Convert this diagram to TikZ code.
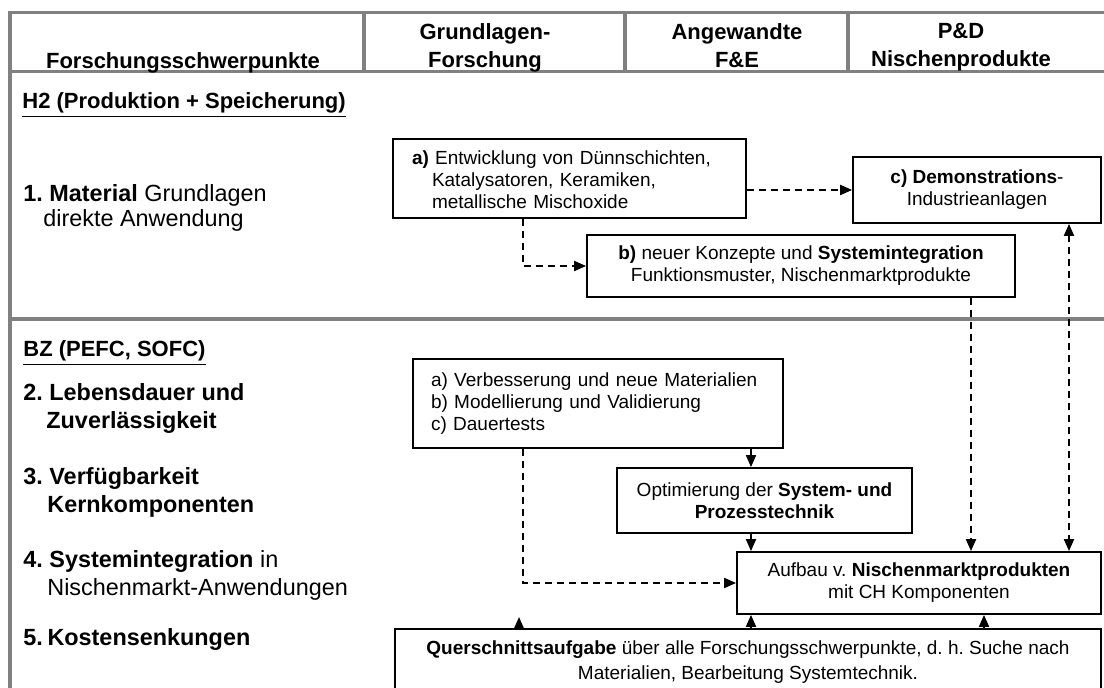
\documentclass[tikz,border=0pt]{standalone}
\usepackage{fontspec}
\setmainfont{Liberation Sans}
\usetikzlibrary{arrows.meta}
\frenchspacing
\definecolor{tablegray}{RGB}{128,128,128}
\tikzset{
  tline/.style={draw=tablegray, line width=1.75pt},
  box/.style={draw=black, line width=0.9pt, inner sep=0pt, font=\fontsize{9.5}{11}\selectfont},
  down/.style={execute at begin node={\rule{0pt}{#1}}},
  hdr/.style={font=\fontsize{11}{14}\selectfont\bfseries, align=center, inner sep=0pt,
    execute at begin node=\strut, execute at end node=\strut},
  item/.style={font=\fontsize{11.7}{14}\selectfont, align=left, inner sep=0pt, anchor=west},
  sect/.style={font=\fontsize{11}{14}\selectfont\bfseries, inner sep=0pt, anchor=west},
  tip/.style={-{Triangle[length=6pt,width=5pt]}},
  dashline/.style={line width=1pt, dash pattern=on 3.5pt off 2.5pt, tip},
  solidarrow/.style={line width=0.9pt, tip},
}
\begin{document}
\begin{tikzpicture}[x=0.5pt,y=-0.5pt]
\useasboundingbox (0,0) rectangle (1104,688);
\clip (0,0) rectangle (1104,688);
\fill[white] (0,0) rectangle (1104,688);

% table frame
\draw[tline] (10,12.5) -- (1110,12.5);
\draw[tline] (10,11) -- (10,700);
\draw[tline] (10,71.5) -- (1110,71.5);
\draw[tline] (364,12.5) -- (364,71.5);
\draw[tline] (625,12.5) -- (625,71.5);
\draw[tline] (848,12.5) -- (848,71.5);
\draw[tline] (10,319) -- (1110,319);

% header
\node[hdr] (hf) at (183,62.5) {Forschungsschwerpunkte};
\node[hdr] (hg) at (485,49.5) {Grundlagen-\\Forschung};
\node[hdr] (ha) at (737,49.5) {Angewandte\\F\&E};
\node[hdr] (hp) at (961,49.5) {P\&D\\Nischenprodukte};

% left column
\node[sect] (sh2) at (22,105) {\underline{H2 (Produktion + Speicherung)}};
\node[item, font=\fontsize{11.7}{12.5}\selectfont] (m1) at (23,207.5) {\textbf{1. Material} Grundlagen\\\hspace*{10pt}direkte Anwendung};
\node[sect] (sbz) at (23,353) {\underline{BZ (PEFC, SOFC)}};
\node[item] (m2) at (23,409) {\textbf{2. Lebensdauer und}\\\hspace*{11.5pt}\textbf{Zuverlässigkeit}};
\node[item] (m3) at (23,492.5) {\textbf{3. Verfügbarkeit}\\\hspace*{12pt}\textbf{Kernkomponenten}};
\node[item] (m4) at (23,575.5) {\textbf{4. Systemintegration} in\\\hspace*{12pt}Nischenmarkt-Anwendungen};
\node[item] (m5) at (23,640) {\textbf{5.\hspace{2.3pt}Kostensenkungen}};

% boxes
\node[box, down=8.5pt, minimum width=176.5pt, minimum height=39.5pt, text width=157.5pt, align=left] (a) at (569.5,178.5)
  {\textbf{a)} Entwicklung von Dünnschichten,\\\hspace*{10pt}Katalysatoren, Keramiken,\\\hspace*{10pt}metallische Mischoxide};
\node[box, minimum width=124pt, minimum height=33pt, align=center] (c) at (977,190)
  {\textbf{c) Demonstrations}-\\Industrieanlagen};
\node[box, down=10pt, minimum width=214pt, minimum height=31pt, align=center] (b) at (801,266)
  {\textbf{b)} neuer Konzepte und \textbf{Systemintegration}\\Funktionsmuster, Nischenmarktprodukte};
\node[box, minimum width=185pt, minimum height=44.5pt, text width=167pt, align=left] (v) at (598,403.5)
  {a) Verbesserung und neue Materialien\\b) Modellierung und Validierung\\c) Dauertests};
\node[box, down=9pt, minimum width=147.5pt, minimum height=32.5pt, align=center] (o) at (764.5,500.5)
  {Optimierung der \textbf{System- und}\\\textbf{Prozesstechnik}};
\node[box, down=12pt, minimum width=182pt, minimum height=31pt, align=center] (A) at (919,583)
  {Aufbau v. \textbf{Nischenmarktprodukten}\\mit CH Komponenten};
\node[box, down=9pt, minimum width=353pt, minimum height=33.5pt, align=center, font=\fontsize{9.5}{12.5}\selectfont] (q) at (748,662.5)
  {\textbf{Querschnittsaufgabe} über alle Forschungsschwerpunkte, d. h. Suche nach\\Materialien, Bearbeitung Systemtechnik.};

% connector helper coordinates
\coordinate (xab) at (523,0);
\coordinate (xb) at (971,0);
\coordinate (xc) at (1069,0);
\coordinate (xo) at (751,0);
\coordinate (xq) at (984,0);
\coordinate (qtip) at (519,617);

% connectors
\draw[dashline] (c.west -| a.east) -- (c.west);
\draw[dashline] (a.south -| xab) |- (b.west);
\draw[dashline] (b.south -| xb) -- (A.north -| xb);
\draw[dashline, {Triangle[length=6pt,width=5pt]}-{Triangle[length=6pt,width=5pt]}] (c.south -| xc) -- (A.north -| xc);
\draw[solidarrow] (v.south -| xo) -- (o.north -| xo);
\draw[solidarrow] (o.south -| xo) -- (A.north -| xo);
\draw[dashline] (v.south -| xab) |- (A.west);
\draw[solidarrow] (q.north -| xo) -- (A.south -| xo);
\draw[solidarrow] (q.north -| xq) -- (A.south -| xq);
\draw[solidarrow] (q.north -| qtip) -- (qtip);
\end{tikzpicture}
\end{document}
